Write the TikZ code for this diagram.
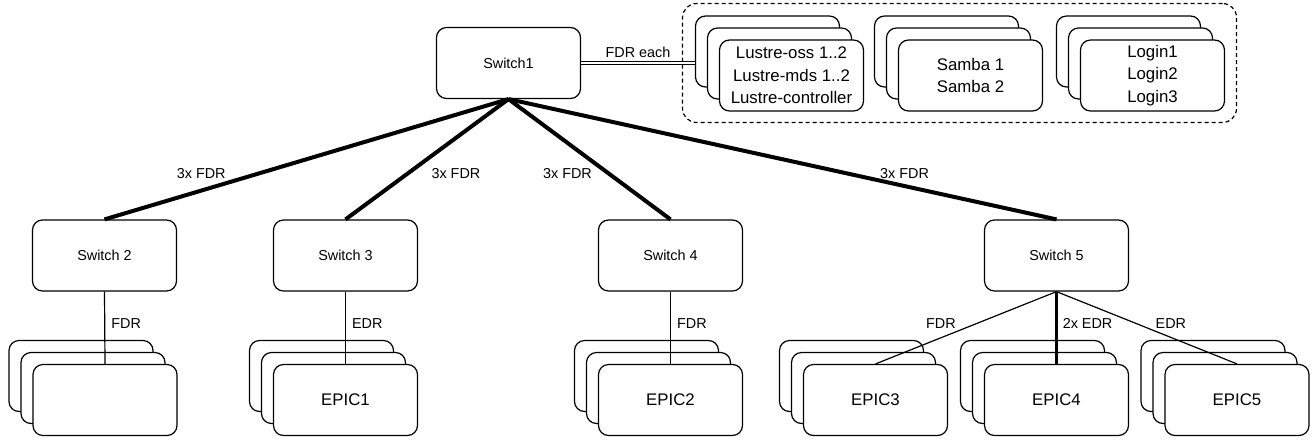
\documentclass[tikz,border=0pt]{standalone}
\usepackage{fontspec}
\setmainfont{Liberation Sans}
\usetikzlibrary{positioning}

\begin{document}
\begin{tikzpicture}[x=1pt, y=-1pt,
			switchbox/.style={draw, fill=white, rounded corners=10pt, line width=1.2pt,
				minimum width=144pt, minimum height=71pt, font=\fontsize{14.4}{17}\selectfont},
			card/.style={switchbox, align=center, font=\fontsize{16.8}{22.5}\selectfont},
			group/.style={draw, dash pattern=on 4pt off 3pt, rounded corners=14pt, line width=1.2pt},
			lbl/.style={inner sep=1pt, font=\fontsize{14.4}{17}\selectfont},
			uplink/.style={line width=4pt},
			link/.style={line width=1.2pt}]
			\useasboundingbox (0,0) rectangle (1315,440);

			% server group
			\node[group, minimum width=554pt, minimum height=119pt] (servers) at (959.5,63) {};

			% back cards of every stack
			\foreach \n/\x/\y in {lus/791.5/75.5, sam/970.5/75.5, log/1152.5/75.5,
				nd0/105/400, ep1/345.5/400, ep2/670.5/400, ep3/875.5/400, ep4/1056.5/400, ep5/1237/400}
				\foreach \d in {24,12}
					\node[card] (\n-\d) at (\x-\d,\y-\d) {};

			\node[card] (lus) at (791.5,75.5) {Lustre-oss 1..2\\Lustre-mds 1..2\\Lustre-controller};
			\node[card] (sam) at (970.5,75.5) {Samba 1\\Samba 2};
			\node[card] (log) at (1152.5,75.5) {Login1\\Login2\\Login3};

			\node[card] (nd0) at (105,400) {};
			\node[card] (ep1) at (345.5,400) {EPIC1};
			\node[card] (ep2) at (670.5,400) {EPIC2};
			\node[card] (ep3) at (875.5,400) {EPIC3};
			\node[card] (ep4) at (1056.5,400) {EPIC4};
			\node[card] (ep5) at (1237,400) {EPIC5};

			% switches
			\node[switchbox] (sw1) at (508.5,63) {Switch1};
			\node[switchbox] (sw2) at (104.5,255.5) {Switch 2};
			\node[switchbox] (sw3) at (345.5,255.5) {Switch 3};
			\node[switchbox] (sw4) at (670.5,255.5) {Switch 4};
			\node[switchbox] (sw5) at (1056.5,255.5) {Switch 5};

			\draw[link, double, double distance=2pt] (sw1.east) -- (sw1.east -| lus-24.west)
				node[lbl, midway, above=4pt] {FDR each};

			\draw[uplink] (sw1.south) -- (sw2.north) node[lbl, pos=0.617, xshift=-58pt] {3x FDR};
			\draw[uplink] (sw1.south) -- (sw3.north) node[lbl, pos=0.617, xshift=48pt] {3x FDR};
			\draw[uplink] (sw1.south) -- (sw4.north) node[lbl, pos=0.617, xshift=-41pt] {3x FDR};
			\draw[uplink] (sw1.south) -- (sw5.north) node[lbl, pos=0.617, xshift=58pt] {3x FDR};

			\draw[link] (sw2.south) -- (nd0.north) node[lbl, pos=0.44, anchor=west, xshift=5pt] {FDR};
			\draw[link] (sw3.south) -- (ep1.north) node[lbl, pos=0.44, anchor=west, xshift=5pt] {EDR};
			\draw[link] (sw4.south) -- (ep2.north) node[lbl, pos=0.44, anchor=west, xshift=5pt] {FDR};
			\draw[link] (sw5.south) -- (ep3.north) node[lbl, pos=0.44, xshift=-36pt] {FDR};
			\draw[line width=2.5pt] (sw5.south) -- (ep4.north) node[lbl, pos=0.44, anchor=west, xshift=4pt] {2x EDR};
			\draw[link] (sw5.south) -- (ep5.north) node[lbl, pos=0.44, xshift=35pt] {EDR};
		\end{tikzpicture}
\end{document}
